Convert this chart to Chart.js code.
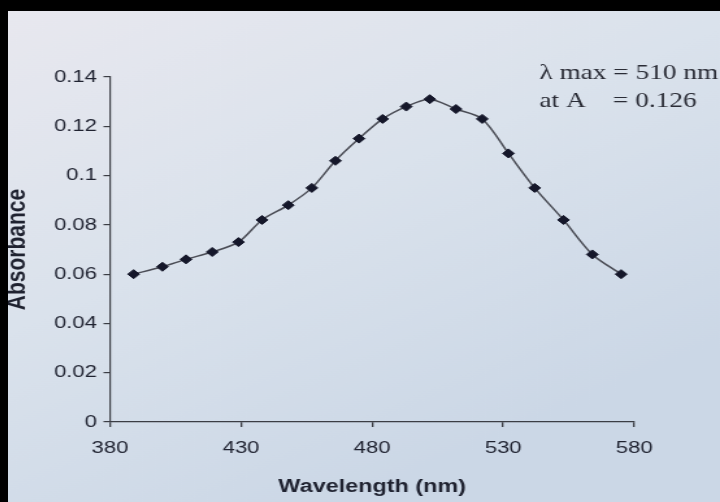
<!DOCTYPE html>
<html>
<head>
<meta charset="utf-8">
<script src="https://cdn.jsdelivr.net/npm/chart.js@4/dist/chart.umd.min.js"></script>
<style>
  html, body { margin: 0; padding: 0; background-color: #dae2ec; }
  #page { position: relative; width: 720px; height: 502px; overflow: hidden; background-color: #dae2ec; }
  #frameTop { position: absolute; left: 0; top: 0; width: 720px; height: 11px; background-color: #000; }
  #frameLeft { position: absolute; left: 0; top: 0; width: 8px; height: 502px; background-color: #000; }
  /* the photographed page is stretched sideways, so the chart is too */
  #spectrum { position: absolute; left: 8px; top: 11px; transform-origin: 0 0; transform: scaleX(1.2993); }
</style>
</head>
<body>
<div id="page">
  <canvas id="spectrum" width="548" height="491"></canvas>
  <div id="frameTop"></div>
  <div id="frameLeft"></div>
</div>
<script>
// wavelength (nm) of each measured point
const wavelength = [389, 400, 409, 419, 429, 438, 448, 457, 466, 475, 484, 493, 502, 512, 522, 532, 542, 553, 564, 575];
// absorbance
const absorbance = [0.060, 0.063, 0.066, 0.069, 0.073, 0.082, 0.088, 0.095, 0.106, 0.115, 0.123, 0.128, 0.131, 0.127, 0.123, 0.109, 0.095, 0.082, 0.068, 0.060];
const xTicks = [380, 430, 480, 530, 580];
const yTicks = [0, 0.02, 0.04, 0.06, 0.08, 0.1, 0.12, 0.14];
const noteLines = ['\u03bb max = 510 nm', 'at A    = 0.126'];

const points = wavelength.map((w, i) => ({ x: w, y: absorbance[i] }));
const ink = '#1f2230';
const axisColor = '#3b3d44';
const sans = '"Liberation Sans", Arial, sans-serif';

// paper colour behind the plot, lighter at the top left like the photo
const paperPlugin = {
    id: 'paper',
    beforeDraw(chart) {
        const ctx = chart.ctx;
        const g = ctx.createLinearGradient(0, 0, chart.width * 0.5, chart.height);
        g.addColorStop(0, '#e8e8ef');
        g.addColorStop(0.5, '#dae2ec');
        g.addColorStop(1, '#cbd7e6');
        ctx.save();
        ctx.fillStyle = g;
        ctx.fillRect(0, 0, chart.width, chart.height);
        ctx.restore();
    }
};

// writes the lambda max note in the top right corner
const notePlugin = {
    id: 'note',
    afterDraw(chart) {
        const ctx = chart.ctx;
        ctx.save();
        ctx.font = '21px "Liberation Serif", "Times New Roman", serif';
        ctx.fillStyle = '#2a2c36';
        ctx.textBaseline = 'alphabetic';
        ctx.fillText(noteLines[0], 409, 68);
        ctx.fillText(noteLines[1], 409, 96);
        ctx.restore();
    }
};

new Chart(document.getElementById('spectrum').getContext('2d'), {
    type: 'scatter',
    data: {
        datasets: [{
            data: points,
            showLine: true,
            tension: 0.3,
            borderColor: '#4a4c55',
            borderWidth: 1.5,
            pointStyle: 'rectRot',
            pointRadius: 4.5,
            pointBackgroundColor: '#15172a',
            pointBorderColor: '#15172a',
            pointBorderWidth: 1
        }]
    },
    options: {
        responsive: false,
        animation: false,
        layout: { padding: { top: 66, right: 66, left: 0, bottom: 0 } },
        plugins: { legend: { display: false }, tooltip: { enabled: false } },
        scales: {
            x: {
                type: 'linear',
                min: 380,
                max: 580,
                afterBuildTicks: scale => { scale.ticks = xTicks.map(v => ({ value: v })); },
                afterFit: scale => { scale.height = 80; },
                grid: { drawOnChartArea: false, drawTicks: true, tickLength: 5, color: axisColor, lineWidth: 1.3 },
                border: { display: true, color: axisColor, width: 1.3 },
                ticks: { color: ink, padding: 11, font: { family: sans, size: 17 } },
                title: {
                    display: true,
                    text: 'Wavelength (nm)',
                    color: ink,
                    padding: { top: 4, bottom: 4 },
                    font: { family: sans, size: 18, weight: 'bold' }
                }
            },
            y: {
                min: 0,
                max: 0.14,
                afterBuildTicks: scale => { scale.ticks = yTicks.map(v => ({ value: v })); },
                afterFit: scale => { scale.width = 78.5; },
                grid: { drawOnChartArea: false, drawTicks: true, tickLength: 5, color: axisColor, lineWidth: 1.2 },
                border: { display: true, color: axisColor, width: 1.2 },
                ticks: {
                    color: ink,
                    padding: 5,
                    font: { family: sans, size: 17 },
                    callback: v => String(Number(v.toFixed(2)))
                },
                title: {
                    display: true,
                    text: 'Absorbance',
                    color: ink,
                    padding: { top: -3, bottom: 0 },
                    font: { family: sans, size: 21, weight: 'bold', lineHeight: 1 }
                }
            }
        }
    },
    plugins: [paperPlugin, notePlugin]
});
</script>
</body>
</html>
